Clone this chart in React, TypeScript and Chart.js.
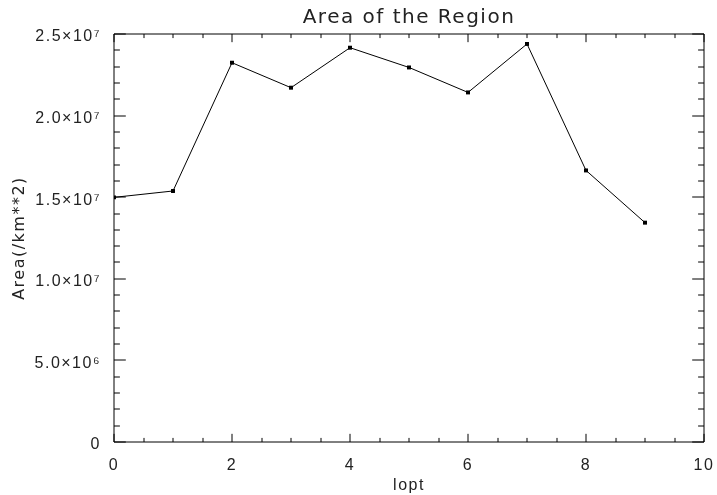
import React, { useEffect, useRef } from "react";
import { Chart, registerables } from "chart.js";

Chart.register(...registerables);

const lopt = [0, 1, 2, 3, 4, 5, 6, 7, 8, 9];
const area = [1.499e7, 1.538e7, 2.324e7, 2.171e7, 2.416e7, 2.295e7, 2.142e7, 2.439e7, 1.664e7, 1.344e7];
const titleText = "Area of the Region";
const xTitle = "lopt";
const yTitle = "Area(/km**2)";
const xRange = [0, 10];
const yRange = [0, 2.5e7];
const xMajorStep = 2;
const xMinorStep = 0.5;
const yMajorStep = 5e6;
const yMinorStep = 1e6;

const SUP: Record<string, string> = {
  "0": "\u2070", "1": "\u00b9", "2": "\u00b2", "3": "\u00b3", "4": "\u2074",
  "5": "\u2075", "6": "\u2076", "7": "\u2077", "8": "\u2078", "9": "\u2079",
};

function fmtSci(v: number): string {
  if (v === 0) return "0";
  const e = Math.floor(Math.log10(Math.abs(v)) + 1e-9);
  const m = v / Math.pow(10, e);
  const es = String(e).split("").map((c) => SUP[c] || c).join("");
  return m.toFixed(1) + "\u00d710" + es;
}

const FONT_T = "'DejaVu Sans', sans-serif";
const FONT_N = "'Liberation Sans', sans-serif";
const TEXT = "#222222";
const AXIS = "#000000";

const spacing = {
  id: "spacing",
  beforeLayout(chart: any) {
    chart.ctx.letterSpacing = "1.5px";
  },
  beforeDraw(chart: any) {
    chart.ctx.letterSpacing = "1.5px";
  },
};

const boxTicks = {
  id: "boxTicks",
  beforeDatasetsDraw(chart: any) {
    const { ctx, chartArea: a, scales } = chart;
    const xs = scales.x;
    const ys = scales.y;
    ctx.save();
    ctx.strokeStyle = AXIS;
    ctx.lineWidth = 1;
    ctx.beginPath();
    ctx.rect(Math.round(a.left), Math.round(a.top), Math.round(a.right - a.left), Math.round(a.bottom - a.top));
    ctx.stroke();
    const w = a.right - a.left;
    const h = a.bottom - a.top;
    const xLen = h * 0.02;
    const yLen = w * 0.02;
    ctx.beginPath();
    for (let v = xRange[0]; v <= xRange[1] + 1e-9; v += xMinorStep) {
      const major = Math.abs(v / xMajorStep - Math.round(v / xMajorStep)) < 1e-6;
      const len = major ? xLen : xLen / 2;
      const px = Math.round(xs.getPixelForValue(v));
      ctx.moveTo(px, a.bottom);
      ctx.lineTo(px, a.bottom - len);
      ctx.moveTo(px, a.top);
      ctx.lineTo(px, a.top + len);
    }
    for (let v = yRange[0]; v <= yRange[1] + 1; v += yMinorStep) {
      const major = Math.abs(v / yMajorStep - Math.round(v / yMajorStep)) < 1e-6;
      const len = major ? yLen : yLen / 2;
      const py = Math.round(ys.getPixelForValue(v));
      ctx.moveTo(a.left, py);
      ctx.lineTo(a.left + len, py);
      ctx.moveTo(a.right, py);
      ctx.lineTo(a.right - len, py);
    }
    ctx.stroke();
    ctx.restore();
  },
};

export default function App() {
  const ref = useRef<HTMLCanvasElement>(null);
  useEffect(() => {
    if (!ref.current) return;
    const chart = new Chart(ref.current, {
      type: "line",
      data: {
        datasets: [
          {
            data: lopt.map((x, i) => ({ x, y: area[i] })),
            borderColor: "#000000",
            backgroundColor: "#000000",
            borderWidth: 1,
            pointStyle: "rect",
            pointRadius: 2.8,
            pointBorderWidth: 0,
            tension: 0,
          },
        ],
      },
      options: {
        responsive: false,
        animation: false,
        layout: { padding: { right: 13, left: 0, top: 0, bottom: 0 } },
        plugins: {
          legend: { display: false },
          tooltip: { enabled: false },
          title: {
            display: true,
            text: titleText,
            fullSize: false,
            color: TEXT,
            font: { family: FONT_T, size: 20, weight: "normal" },
            padding: { top: 6, bottom: 4 },
          },
        },
        scales: {
          x: {
            type: "linear",
            min: xRange[0],
            max: xRange[1],
            grid: { display: false },
            border: { display: false },
            ticks: {
              stepSize: xMajorStep,
              color: TEXT,
              padding: 6,
              maxRotation: 0,
              font: { family: FONT_N, size: 16 },
              callback: (v: any) => String(v),
            },
            title: {
              display: true,
              text: xTitle,
              color: TEXT,
              font: { family: FONT_N, size: 16 },
              padding: { top: 0, bottom: 0 },
            },
            afterFit: (s: any) => {
              s.height = 53;
              s.paddingLeft = 0;
              s.paddingRight = 0;
            },
          },
          y: {
            type: "linear",
            min: yRange[0],
            max: yRange[1],
            grid: { display: false },
            border: { display: false },
            ticks: {
              stepSize: yMajorStep,
              color: TEXT,
              padding: 5,
              labelOffset: 3,
              font: { family: FONT_N, size: 16 },
              callback: (v: any) => fmtSci(Number(v)),
            },
            title: {
              display: true,
              text: yTitle,
              color: TEXT,
              font: { family: FONT_T, size: 16 },
              padding: { top: 10, bottom: 0 },
            },
            afterFit: (s: any) => {
              s.width = 114;
              s.paddingTop = 0;
              s.paddingBottom = 0;
            },
          },
        },
      },
      plugins: [spacing, boxTicks],
    });
    return () => chart.destroy();
  }, []);
  return (
    <canvas
      ref={ref}
      width={717}
      height={495}
      style={{ position: "fixed", left: 0, top: 0, width: 717, height: 495 }}
    />
  );
}
